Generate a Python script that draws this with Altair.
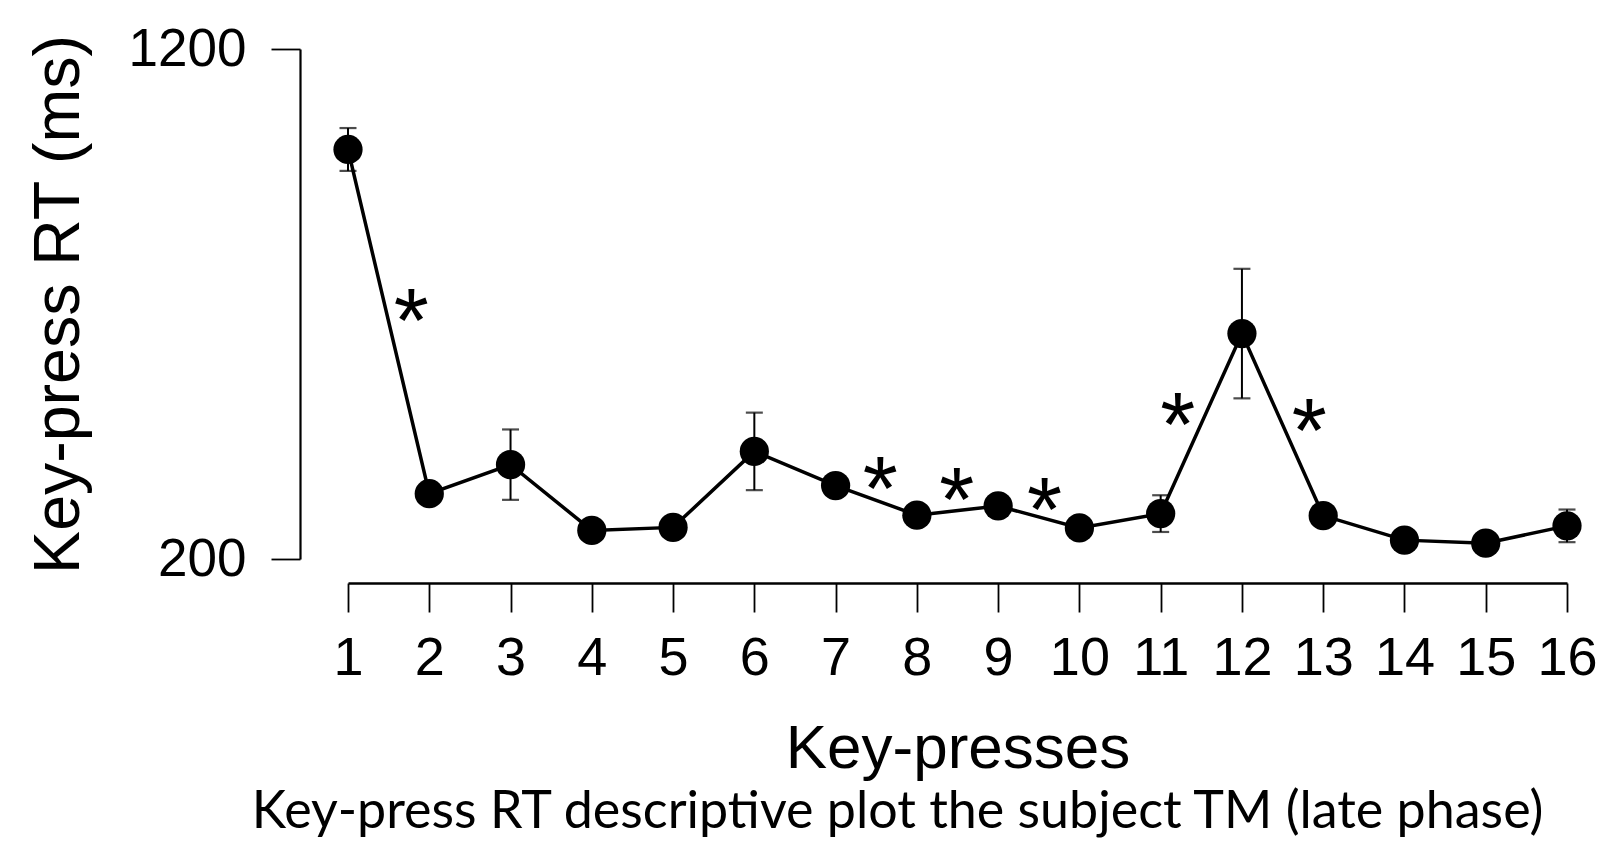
import altair as alt
import pandas as pd

# ---- data ----
keys = list(range(1, 17))
rt_mean = [1003, 328, 385, 256, 262, 411, 344, 286, 304, 261, 289, 642, 285, 237, 231, 265]
rt_se = [42, 15, 69, 14, 14, 76, 15, 15, 15, 15, 36, 127, 16, 14, 14, 32]
star_x = [1.78, 7.55, 8.49, 9.57, 11.21, 12.83]
star_y = [690, 361, 340, 320, 487, 474]
y_ticks = [200, 1200]

df = pd.DataFrame({
    "key": keys,
    "rt": rt_mean,
    "lo": [m - s for m, s in zip(rt_mean, rt_se)],
    "hi": [m + s for m, s in zip(rt_mean, rt_se)],
})
stars = pd.DataFrame({"x": star_x, "y": star_y, "label": ["*"] * len(star_x)})

FONT = "Liberation Sans"
xs = alt.Scale(domain=[1, 16], nice=False, zero=False)
ys = alt.Scale(domain=[200, 1200], nice=False, zero=False)

x_axis = alt.Axis(
    values=keys, format="d", offset=24, tickSize=29, tickWidth=1.8, domainWidth=2.6,
    domainColor="black", tickColor="black", labelColor="black", titleColor="black",
    labelFont=FONT, labelFontSize=54, labelPadding=19, labelFlush=False,
    title="Key-presses", titleFont=FONT, titleFontSize=62, titleFontWeight="normal",
    titlePadding=33, grid=False, labelOverlap=False,
)
y_axis = alt.Axis(
    values=y_ticks, format="d", offset=48, tickSize=29, tickWidth=1.8, domainWidth=2.2,
    domainColor="black", tickColor="black", labelColor="black", titleColor="black",
    labelFont=FONT, labelFontSize=53, labelPadding=25, labelFlush=False,
    title="Key-press RT (ms)", titleFont=FONT, titleFontSize=64.5, titleFontWeight="normal",
    titlePadding=36, grid=False,
)

base = alt.Chart(df)
err = base.mark_rule(color="black", strokeWidth=2).encode(
    x=alt.X("key:Q", scale=xs, axis=x_axis),
    y=alt.Y("lo:Q", scale=ys, axis=y_axis),
    y2="hi:Q",
)
cap_hi = base.mark_tick(color="black", thickness=2.2, size=17, orient="horizontal").encode(
    x=alt.X("key:Q", scale=xs), y=alt.Y("hi:Q", scale=ys)
)
cap_lo = base.mark_tick(color="black", thickness=2.2, size=17, orient="horizontal").encode(
    x=alt.X("key:Q", scale=xs), y=alt.Y("lo:Q", scale=ys)
)
line = base.mark_line(color="black", strokeWidth=3.5).encode(
    x=alt.X("key:Q", scale=xs), y=alt.Y("rt:Q", scale=ys)
)
pts = base.mark_circle(color="black", size=855, opacity=1).encode(
    x=alt.X("key:Q", scale=xs), y=alt.Y("rt:Q", scale=ys)
)
txt = alt.Chart(stars).mark_text(
    font=FONT, fontSize=90, baseline="alphabetic", align="center", dy=43, color="black"
).encode(x=alt.X("x:Q", scale=xs), y=alt.Y("y:Q", scale=ys), text="label:N")

chart = alt.layer(err, cap_hi, cap_lo, line, pts, txt).properties(
    width=1219,
    height=510,
    autosize=alt.AutoSizeParams(type="none"),
    padding={"left": 348, "top": 49, "right": 34, "bottom": 285},
    background="white",
    title=alt.TitleParams(
        "Key-press RT descriptive plot the subject TM (late phase)",
        orient="bottom", anchor="middle", font="Lato", fontSize=52,
        fontWeight="normal", color="black", offset=8, dx=-60,
    ),
).configure_view(stroke=None)

chart.save("out.html", embed_options={"renderer": "svg", "actions": False})
